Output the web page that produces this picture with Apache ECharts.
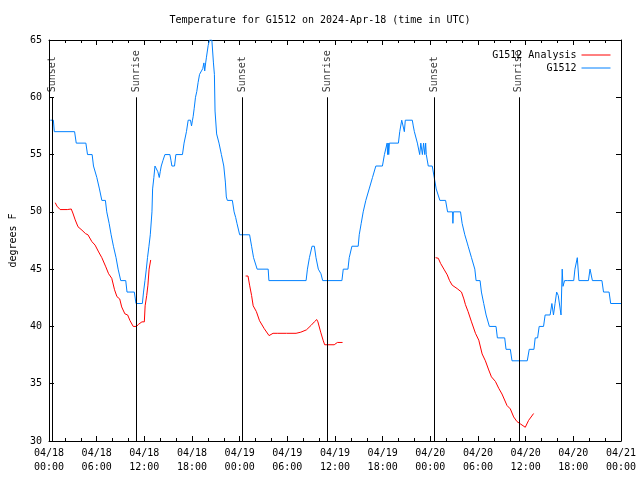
<!DOCTYPE html>
<html><head><meta charset="utf-8">
<script src="https://cdn.jsdelivr.net/npm/echarts@6/dist/echarts.min.js"></script>
<style>html,body{margin:0;padding:0;background:#fff}#c{width:640px;height:480px}</style>
</head><body><div id="c"></div>
<script>
// Hours since 2024-04-18 00:00 UTC
const xTickLabels = ['04/18\n00:00','04/18\n06:00','04/18\n12:00','04/18\n18:00','04/19\n00:00','04/19\n06:00','04/19\n12:00','04/19\n18:00','04/20\n00:00','04/20\n06:00','04/20\n12:00','04/20\n18:00','04/21\n00:00'];
const sunTimes = [0.42, 11.04, 24.34, 35.08, 48.46, 59.13];
const sunNames = ['Sunset','Sunrise','Sunset','Sunrise','Sunset','Sunrise'];
const sunLineFrom = 30, sunLineTo = 60;

const g1512 = [[0.17,58],[0.55,58],[0.67,57],[3.22,57],[3.43,56],[4.64,56],[4.85,55],[5.43,55],[5.6,54],[5.85,54],[6.02,53],[6.2,53],[6.35,52],[6.55,52],[6.65,51],[7.1,51],[7.27,50],[7.45,50],[7.57,49],[7.7,49],[7.82,48],[7.95,48],[8.11,47],[8.3,47],[8.44,46],[8.6,46],[8.7,45],[8.85,45],[9.03,44],[9.66,44],[9.82,43],[10.74,43],[10.95,42],[11.75,42],[11.9,43],[12.08,44],[12.25,45],[12.4,46],[12.58,47],[12.75,48],[12.96,50],[13.04,52],[13.2,53],[13.34,54],[13.55,54],[13.7,53.5],[13.88,53],[14.0,53.5],[14.13,54],[14.35,54.5],[14.59,55],[15.22,55],[15.35,54.5],[15.47,54],[15.8,54],[15.97,55],[16.8,55],[17.0,56],[17.3,57],[17.52,58],[17.64,58],[17.81,58],[17.94,57.5],[18.06,58],[18.14,58.3],[18.27,59],[18.44,60],[18.6,60.5],[18.77,61.3],[18.95,62],[19.19,62.3],[19.35,62.5],[19.5,63],[19.6,62.3],[19.72,63],[19.82,63.5],[20.03,64.5],[20.2,65],[20.5,65],[20.7,63],[20.82,62],[20.9,58.8],[21.1,56.8],[21.4,56],[21.7,55],[22.0,54],[22.2,52.6],[22.32,51.3],[22.45,51],[23.08,51],[23.3,50],[23.5,49.5],[23.66,49],[24.0,48],[25.25,48],[25.5,47],[25.75,46],[26.0,46],[26.2,45],[27.59,45],[27.68,44],[32.36,44],[32.53,45],[32.78,46],[33.11,47],[33.4,47],[33.61,46],[33.9,45],[34.23,44.6],[34.45,44],[36.87,44],[37.04,45],[37.63,45],[37.79,46],[38.13,47],[38.92,47],[39.05,48],[39.3,49],[39.55,50],[39.88,51],[40.3,52],[40.72,53],[41.14,54],[41.97,54],[42.22,55],[42.56,56],[42.62,55],[42.7,56],[42.76,55],[42.85,56],[43.98,56],[44.15,57],[44.4,58],[44.6,58],[44.73,57],[44.85,58],[45.73,58],[45.85,57.5],[45.99,57],[46.37,56],[46.6,56],[46.66,55],[46.8,56],[46.95,56],[47.0,55],[47.15,56],[47.3,55],[47.41,56],[47.49,55],[47.74,54],[48.24,54],[48.49,53],[48.74,52],[49.2,51],[49.92,51],[50.17,50],[50.8,50],[50.84,49],[50.9,50],[51.8,50],[52.0,49],[52.34,48],[52.68,47.2],[52.76,47],[53.18,46],[53.6,45],[53.76,44],[54.26,44],[54.43,43],[54.72,42],[55.02,41],[55.43,40],[56.27,40],[56.44,39],[57.36,39],[57.53,38],[58.07,38],[58.28,37],[60.2,37],[60.45,38],[61.04,38],[61.2,39],[61.5,39],[61.7,40],[62.25,40],[62.45,41],[63.08,41],[63.3,42],[63.5,41],[63.7,42],[63.9,43],[64.1,42.7],[64.45,41],[64.6,45],[64.7,43.5],[64.9,44],[65.3,44],[66.05,44],[66.2,45],[66.5,46],[66.7,44],[67.9,44],[68.1,45],[68.4,44],[69.6,44],[69.8,43],[70.5,43],[70.7,42],[72.0,42]];

const analysisNight1 = [[0.79,50.8],[1.0,50.5],[1.4,50.2],[2.3,50.2],[2.8,50.25],[3.0,49.9],[3.3,49.3],[3.65,48.7],[4.15,48.4],[4.6,48.1],[4.9,48.0],[5.4,47.4],[5.8,47.1],[6.25,46.5],[6.65,46.0],[7.15,45.2],[7.5,44.6],[7.9,44.2],[8.25,43.2],[8.55,42.6],[8.9,42.4],[9.15,41.7],[9.55,41.1],[9.9,41.0],[10.2,40.5],[10.6,40.0],[11.0,40.0],[11.3,40.2],[11.7,40.4],[12.0,40.4],[12.1,41.8],[12.3,42.7],[12.45,43.6],[12.6,45.0],[12.8,45.8]];
const analysisNight2 = [[24.75,44.4],[25.05,44.4],[25.25,43.6],[25.5,42.7],[25.7,41.8],[26.1,41.3],[26.5,40.5],[27.1,39.8],[27.7,39.2],[28.2,39.4],[28.8,39.4],[29.9,39.4],[31.1,39.4],[31.7,39.5],[32.4,39.7],[33.0,40.1],[33.4,40.4],[33.7,40.6],[33.85,40.4],[34.2,39.5],[34.5,38.8],[34.7,38.4],[35.9,38.4],[36.3,38.6],[36.95,38.6]];
const analysisNight3 = [[48.66,46.0],[49.0,45.95],[49.29,45.5],[49.71,45.0],[50.13,44.5],[50.42,44.0],[50.75,43.6],[51.38,43.3],[51.92,43.0],[52.22,42.4],[52.42,41.9],[52.75,41.3],[52.93,41.3],[53.18,40.4],[53.68,39.4],[54.1,38.8],[54.52,37.6],[54.93,37.0],[55.35,36.2],[55.69,35.6],[56.19,35.2],[56.61,34.6],[57.02,34.1],[57.65,33.1],[58.07,32.8],[58.49,32.1],[58.9,31.7],[59.32,31.5],[59.95,31.2],[60.37,31.8],[61.0,32.4]];

const FONT = 'DejaVu Sans Mono';
const BLACK = '#000';
const ls = {color: BLACK, width: 1};
const txt = {fontFamily: FONT, fontSize: 10, color: BLACK};

function xAx(pos, showLabel) {
  return {type:'value', min:0, max:72, interval:6, position:pos,
    axisLine:{show:true, onZero:false, lineStyle:ls},
    axisTick:{show:true, inside:true, length:5, lineStyle:ls},
    minorTick:{show:true, splitNumber:3, length:3, lineStyle:ls},
    splitLine:{show:false}, minorSplitLine:{show:false},
    axisLabel:Object.assign({show:showLabel, margin:5, lineHeight:14,
      formatter:(v)=>xTickLabels[Math.round(v/6)]}, txt)};
}
function yAx(pos, showLabel) {
  const a = {type:'value', min:30, max:65, interval:5, position:pos,
    axisLine:{show:true, onZero:false, lineStyle:ls},
    axisTick:{show:true, inside:true, length:5, lineStyle:ls},
    splitLine:{show:false},
    axisLabel:Object.assign({show:showLabel, margin:7}, txt)};
  if (showLabel) {
    a.name = 'degrees F'; a.nameLocation = 'middle'; a.nameGap = 31; a.nameRotate = 90;
    a.nameTextStyle = txt;
  }
  return a;
}

const chart = echarts.init(document.getElementById('c'), null, {renderer:'canvas'});
const redStyle = {type:'line', name:'G1512 Analysis', symbol:'none', color:'#ff0000', lineStyle:{width:1, color:'#ff0000'}, z:3, animation:false};
chart.setOption({
  animation:false,
  backgroundColor:'#fff',
  title:{text:'Temperature for G1512 on 2024-Apr-18 (time in UTC)', left:'center', top:10,
    textStyle:{fontFamily:FONT, fontSize:10, fontWeight:'normal', color:BLACK}},
  grid:{left:47, right:19, top:40, bottom:39, containLabel:false},
  legend:{data:['G1512 Analysis','G1512'], orient:'vertical', right:24, top:45, align:'right',
    itemWidth:29, itemHeight:10, itemGap:3, textStyle:txt, selectedMode:false,
    itemStyle:{opacity:0, borderWidth:0}, lineStyle:{width:1}},
  xAxis:[xAx('bottom', true), xAx('top', false)],
  yAxis:[yAx('left', true), yAx('right', false)],
  series:[
    Object.assign({data:analysisNight1}, redStyle),
    Object.assign({data:analysisNight2}, redStyle),
    Object.assign({data:analysisNight3}, redStyle),
    {type:'line', name:'G1512', data:g1512, symbol:'none', color:'#0080ff', lineStyle:{width:1, color:'#0080ff'}, z:3},
    {type:'scatter', name:'sun', data:sunTimes.map((t,i)=>({value:[t, sunLineTo], name:sunNames[i]})),
      symbolSize:0, itemStyle:{color:BLACK}, silent:true, z:4,
      label:Object.assign({show:true, formatter:'{b}', position:'top', distance:5, rotate:90, align:'left', verticalAlign:'middle'}, txt),
      markLine:{silent:true, symbol:['none','none'], label:{show:false}, lineStyle:{color:BLACK, width:1, type:'solid'},
        data:sunTimes.map(t=>[{coord:[t, sunLineFrom]},{coord:[t, sunLineTo]}])}}
  ]
});
</script></body></html>
